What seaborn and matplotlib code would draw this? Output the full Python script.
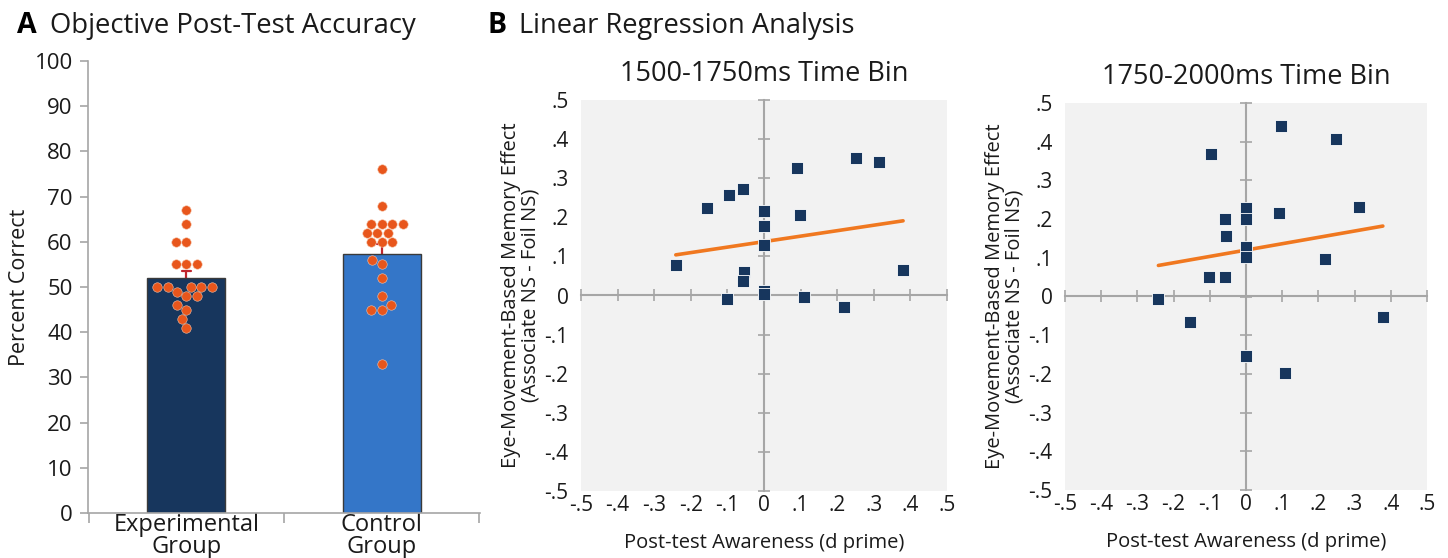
import numpy as np
import pandas as pd
import matplotlib
matplotlib.use("Agg")
import matplotlib.pyplot as plt
import seaborn as sns

# ---------------- data ----------------
# Panel A: individual post-test accuracy (%)
groups = ["Experimental\nGroup", "Control\nGroup"]
experimental_scores = [67, 64, 60, 60, 55, 55, 55, 50, 50, 50, 50, 50, 49, 48, 48, 46, 45, 43, 41]
control_scores = [76, 68, 64, 64, 64, 64, 62, 62, 62, 60, 60, 60, 56, 55, 52, 48, 46, 45, 45, 33]
accuracy_ticks = [0, 10, 20, 30, 40, 50, 60, 70, 80, 90, 100]

# Panel B: awareness (d prime) vs eye-movement memory effect
bin_titles = ["1500-1750ms Time Bin", "1750-2000ms Time Bin"]
awareness_1500 = [-0.241, -0.155, -0.095, -0.057, 0.0, 0.0, 0.0, 0.091, 0.097, 0.25,
                  0.314, 0.38, -0.056, -0.057, -0.10, 0.0, 0.0, 0.109, 0.219]
effect_1500 = [0.077, 0.223, 0.258, 0.273, 0.217, 0.177, 0.129, 0.325, 0.207, 0.352,
               0.342, 0.066, 0.060, 0.036, -0.009, 0.011, 0.005, -0.005, -0.029]
awareness_1750 = [0.0975, 0.248, -0.096, 0.0, 0.09, 0.313, -0.057, 0.0, -0.055, 0.0,
                  0.0, 0.217, -0.101, -0.057, -0.242, -0.155, 0.378, 0.0, 0.108]
effect_1750 = [0.440, 0.406, 0.368, 0.229, 0.216, 0.231, 0.199, 0.200, 0.156, 0.128,
               0.103, 0.096, 0.050, 0.050, -0.006, -0.067, -0.054, -0.155, -0.198]
reg_tick_vals = [-0.5, -0.4, -0.3, -0.2, -0.1, 0.0, 0.1, 0.2, 0.3, 0.4, 0.5]
reg_tick_labels = ["-.5", "-.4", "-.3", "-.2", "-.1", "0", ".1", ".2", ".3", ".4", ".5"]

# ---------------- style ----------------
sns.set_theme(style="white")
plt.rcParams["font.family"] = ["Open Sans", "DejaVu Sans"]
TXT = "#1a1a1a"
GRAY = "#a6a6a6"
NAVY = "#17365D"
BLUE = "#3476C8"
DOT = "#E8561C"
ORANGE = "#F07820"

W, H = 1448, 558
fig = plt.figure(figsize=(W / 100, H / 100), dpi=100)


def box(l, t, r, b):
    return [l / W, 1 - b / H, (r - l) / W, (b - t) / H]


# ---------------- Panel A ----------------
ax_a = fig.add_axes(box(88, 61, 480, 513))
df_a = pd.DataFrame({
    "group": [groups[0]] * len(experimental_scores) + [groups[1]] * len(control_scores),
    "score": experimental_scores + control_scores,
})
sns.barplot(data=df_a, x="group", y="score", hue="group", order=groups, hue_order=groups,
            palette=[NAVY, BLUE], saturation=1, errorbar="se", capsize=0.05, width=0.4,
            err_kws={"color": "#C0262D", "linewidth": 1.6},
            edgecolor="#3a3a3a", linewidth=1.0, legend=False, ax=ax_a)
for ln in ax_a.lines:
    ln.set_zorder(0.8)
sns.swarmplot(data=df_a, x="group", y="score", order=groups, color=DOT, size=6.8,
              edgecolor="#f7c4a8", linewidth=0.4, ax=ax_a, zorder=3)
ax_a.set_xlim(-0.504, 1.504)
ax_a.set_ylim(0, 100)
ax_a.set_yticks(accuracy_ticks)
ax_a.set_xticks([0, 1], groups)
ax_a.set_xticks([-0.5, 0.5, 1.5], minor=True)
ax_a.tick_params(axis="y", which="major", direction="out", length=6, width=1.2, color=GRAY,
                 labelsize=16, labelcolor=TXT, pad=5, left=True)
ax_a.tick_params(axis="x", which="major", length=0, labelsize=17, labelcolor=TXT, pad=0)
ax_a.tick_params(axis="x", which="minor", direction="out", length=7, width=1.2, color=GRAY,
                 bottom=True)
for t in ax_a.get_xticklabels():
    t.set_linespacing(0.88)
for s in ["top", "right"]:
    ax_a.spines[s].set_visible(False)
for s in ["left", "bottom"]:
    ax_a.spines[s].set_color(GRAY)
    ax_a.spines[s].set_linewidth(1.2)
ax_a.set_xlabel("")
ax_a.set_ylabel("Percent Correct", fontsize=15.5, color=TXT, labelpad=3)

# ---------------- Panel B ----------------
def reg_panel(ax, x, y, title):
    ax.set_facecolor("#F2F2F2")
    sns.regplot(x=x, y=y, ax=ax, ci=None, marker="s",
                scatter_kws=dict(s=86, color=NAVY, alpha=1, edgecolors="white",
                                 linewidths=0.6, zorder=3),
                line_kws=dict(color=ORANGE, lw=2.6, zorder=2))
    ax.set_xlim(-0.5, 0.5)
    ax.set_ylim(-0.5, 0.5)
    ax.set_xticks(reg_tick_vals, reg_tick_labels)
    ax.set_yticks(reg_tick_vals, reg_tick_labels)
    ax.tick_params(axis="both", length=0, labelsize=15, labelcolor=TXT)
    ax.tick_params(axis="y", pad=9)
    ax.tick_params(axis="x", pad=3)
    for s in ax.spines.values():
        s.set_visible(False)
    secx = ax.secondary_xaxis(0.5)
    secx.set_xticks(reg_tick_vals)
    secx.tick_params(direction="inout", length=9, width=1.2, color=GRAY,
                     labeltop=False, labelbottom=False)
    for s in secx.spines.values():
        s.set_color(GRAY)
        s.set_linewidth(1.5)
    secy = ax.secondary_yaxis(0.5)
    secy.set_yticks(reg_tick_vals)
    secy.tick_params(direction="inout", length=9, width=1.2, color=GRAY,
                     labelleft=False, labelright=False)
    for s in secy.spines.values():
        s.set_color(GRAY)
        s.set_linewidth(1.5)
    ax.set_title(title, fontsize=19.5, color=TXT, pad=14)
    ax.set_xlabel("Post-test Awareness (d prime)", fontsize=14.5, color=TXT, labelpad=12)
    ax.set_ylabel("Eye-Movement-Based Memory Effect\n(Associate NS - Foil NS)",
                  fontsize=14.5, color=TXT, labelpad=3, linespacing=0.95)


ax_b1 = fig.add_axes(box(581, 100, 947, 491))
reg_panel(ax_b1, awareness_1500, effect_1500, bin_titles[0])
ax_b2 = fig.add_axes(box(1065, 103, 1427, 490))
reg_panel(ax_b2, awareness_1750, effect_1750, bin_titles[1])

# ---------------- panel headers ----------------
fig.text(17 / W, 1 - 33 / H, "A", fontsize=20.5, fontweight="bold", color="black", va="baseline")
fig.text(50 / W, 1 - 33 / H, "Objective Post-Test Accuracy", fontsize=19.8, color=TXT, va="baseline")
fig.text(487 / W, 1 - 33 / H, "B", fontsize=20.5, fontweight="bold", color="black", va="baseline")
fig.text(519 / W, 1 - 33 / H, "Linear Regression Analysis", fontsize=19.6, color=TXT, va="baseline")

fig.savefig("out.png", dpi=100, facecolor="white")
